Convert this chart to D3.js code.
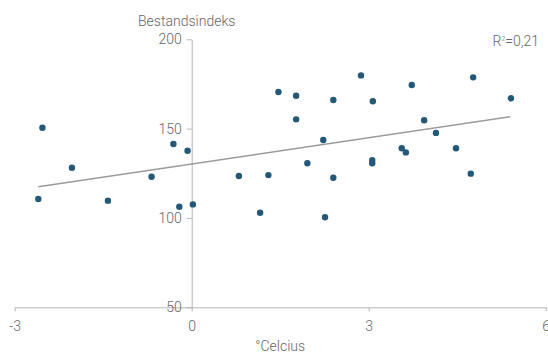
<!DOCTYPE html>
<html>
<head>
<meta charset="utf-8">
<script src="https://cdn.jsdelivr.net/npm/d3@7"></script>
<style>
  body { margin: 0; background: #fff; }
  svg text { font-family: Roboto, "Open Sans", sans-serif; font-weight: 300; fill: #666; }
</style>
</head>
<body>
<svg width="548" height="353"></svg>
<script>
// temperature deviation (°C) and stock index
var tempValues = [-2.53, -2.03, -2.60, -1.42, -0.68, -0.31, -0.07, -0.21, 0.02,
    1.47, 1.77, 2.40, 2.87, 3.07, 1.77, 2.23, 1.96, 3.06, 3.06, 0.80, 1.30, 2.40,
    1.16, 2.26, 3.73, 4.77, 5.41, 3.94, 4.14, 3.56, 3.63, 4.48, 4.73];
var indexValues = [150.5, 128.1, 110.6, 109.7, 123.1, 141.4, 137.6, 106.3, 107.6,
    170.5, 168.4, 166.0, 179.8, 165.3, 155.2, 143.6, 130.6, 132.4, 130.6, 123.5, 124.0, 122.5,
    102.9, 100.4, 174.4, 178.7, 167.0, 154.7, 147.6, 139.0, 136.7, 139.0, 124.8];

var xTicks = [-3, 0, 3, 6];
var yTicks = [50, 100, 150, 200];

// trend line
var trendRange = [-2.6, 5.4];
var trendSlope = 4.9;
var trendIntercept = 130.2;
var rSquaredLabel = "0,21";

function drawChart() {
    var svg = d3.select("svg");

    var x = d3.scaleLinear().domain([-3, 6]).range([14.7, 545.7]);
    var y = d3.scaleLinear().domain([50, 200]).range([307.3, 39.3]);

    var points = tempValues.map(function (t, i) { return { t: t, v: indexValues[i] }; });

    var xAxis = svg.append("g")
        .attr("transform", "translate(0," + y(50) + ")")
        .call(d3.axisBottom(x).tickValues(xTicks).tickSizeInner(4).tickSizeOuter(0).tickPadding(10)
            .tickFormat(d3.format("d")));

    var yAxis = svg.append("g")
        .attr("transform", "translate(" + x(0) + ",0)")
        .call(d3.axisLeft(y).tickValues(yTicks).tickSizeInner(5).tickSizeOuter(0).tickPadding(5));

    [xAxis, yAxis].forEach(function (a) {
        a.select(".domain").attr("stroke", "#b5b5b5");
        a.selectAll(".tick line").attr("stroke", "#b5b5b5");
        a.selectAll(".tick text")
            .attr("fill", "#666")
            .style("font-size", "14px")
            .style("font-family", "Roboto, sans-serif")
            .style("font-weight", "300");
    });

    // minus sign as a plain hyphen like the original
    xAxis.selectAll(".tick text").text(function (d) { return String(d); });

    svg.append("line")
        .attr("x1", x(trendRange[0]))
        .attr("y1", y(trendIntercept + trendSlope * trendRange[0]))
        .attr("x2", x(trendRange[1]))
        .attr("y2", y(trendIntercept + trendSlope * trendRange[1]))
        .attr("stroke", "#9a9a9a")
        .attr("stroke-width", 1.4);

    svg.append("g")
        .selectAll("circle")
        .data(points)
        .enter()
        .append("circle")
        .attr("cx", function (d) { return x(d.t); })
        .attr("cy", function (d) { return y(d.v); })
        .attr("r", 3.2)
        .attr("fill", "#235879");

    svg.append("text")
        .attr("x", x(0) - 5)
        .attr("y", 26)
        .attr("text-anchor", "middle")
        .style("font-size", "14px")
        .text("Bestandsindeks");

    svg.append("text")
        .attr("x", x(1.5))
        .attr("y", 351)
        .attr("text-anchor", "middle")
        .style("font-size", "14px")
        .text("°Celcius");

    var r2 = svg.append("text")
        .attr("x", 539)
        .attr("y", 46)
        .attr("text-anchor", "end")
        .style("font-size", "14px");
    r2.append("tspan").text("R");
    r2.append("tspan").attr("dy", -5).style("font-size", "7px").text("2");
    r2.append("tspan").attr("dy", 5).text("=" + rSquaredLabel);
}

drawChart();
</script>
</body>
</html>
